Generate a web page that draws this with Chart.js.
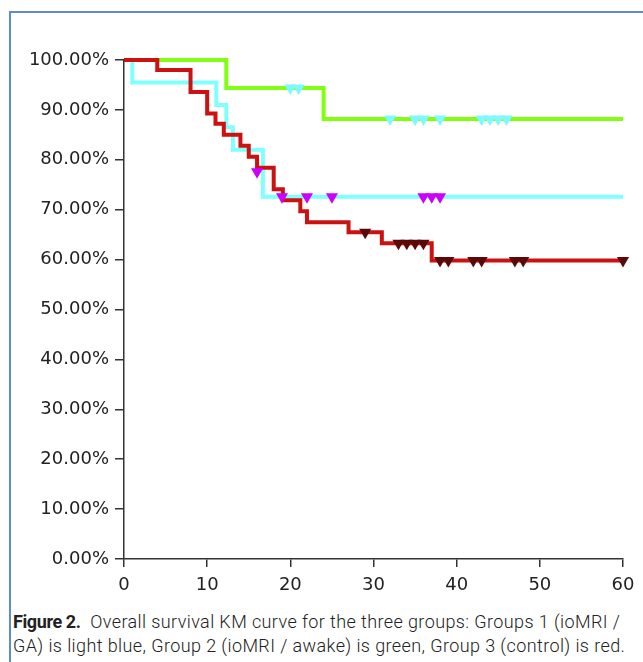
<!DOCTYPE html>
<html lang="en">
<head>
  <meta charset="UTF-8">
  <title>Overall survival KM curve</title>
  <script src="https://cdn.jsdelivr.net/npm/chart.js"></script>
  <style>
    body { margin: 0; background: #fff; width: 643px; height: 662px; overflow: hidden; position: relative; }
    .frame { position: absolute; left: 9px; top: 11px; width: 700px; height: 700px;
             border-top: 2px solid #5b8fcc; border-left: 2px solid #5b8fcc; }
    #wrap { position: absolute; left: 0; top: 0; width: 643px; height: 600px; }
    .caption { position: absolute; left: 13px; top: 610px; width: 630px;
               font-family: Roboto, "Liberation Sans", sans-serif; font-weight: 300;
               font-size: 18px; letter-spacing: 0.4px; line-height: 23.5px; color: #222; white-space: nowrap; }
    .caption b { font-weight: 700; letter-spacing: -0.4px; }
  </style>
</head>
<body>
<div class="frame"></div>
<div id="wrap"><canvas id="km"></canvas></div>
<div class="caption"><b>Figure 2.</b>&nbsp; Overall survival KM curve for the three groups: Groups 1 (ioMRI /<br>GA) is light blue, Group 2 (ioMRI / awake) is green, Group 3 (control) is red.</div>
<script>
// Group 1 (ioMRI / GA) - light blue
const g1Times = [0, 1, 11.1, 12.3, 13.1, 16.7, 60];
const g1Surv  = [100, 95.5, 91.0, 86.5, 82.0, 72.6, 72.6];
const g1CensTimes = [16, 19, 22, 25, 36, 37, 38];
const g1CensSurv  = [77.6, 72.6, 72.6, 72.6, 72.6, 72.6, 72.6];

// Group 2 (ioMRI / awake) - green
const g2Times = [0, 12.3, 24, 60];
const g2Surv  = [100, 94.4, 88.2, 88.2];
const g2CensTimes = [20, 21, 32, 35, 36, 38, 43, 44, 45, 46];
const g2CensSurv  = [94.4, 94.4, 88.2, 88.2, 88.2, 88.2, 88.2, 88.2, 88.2, 88.2];

// Group 3 (control) - red
const g3Times = [0, 4, 8, 10, 11, 12, 14, 15, 16, 18, 19.1, 21.2, 22, 27, 31, 37, 60];
const g3Surv  = [100, 98, 93.6, 89.3, 87.2, 85.0, 82.8, 80.6, 78.4, 74.1, 71.9, 69.7, 67.5, 65.5, 63.3, 59.8, 59.8];
const g3CensTimes = [29, 33, 34, 35, 36, 38, 39, 42, 43, 47, 48, 60];
const g3CensSurv  = [65.5, 63.3, 63.3, 63.3, 63.3, 59.8, 59.8, 59.8, 59.8, 59.8, 59.8, 59.8];

const xTicks = [0, 10, 20, 30, 40, 50, 60];

const pts = (xs, ys) => xs.map((x, i) => ({ x: x, y: ys[i] }));

function stepLine(xs, ys, color, order) {
  return {
    type: 'line', data: pts(xs, ys), borderColor: color, borderWidth: 4,
    stepped: 'before', pointRadius: 0, fill: false, order: order, borderCapStyle: 'butt'
  };
}
function censor(xs, ys, color) {
  return {
    type: 'scatter', data: pts(xs, ys), backgroundColor: color, borderColor: color,
    borderWidth: 0, pointStyle: 'triangle', rotation: 180, pointRadius: 7, order: 0
  };
}

const axisColor = '#333';
const tickFont = { family: 'DejaVu Sans', size: 18 };

new Chart(document.getElementById('km'), {
  data: {
    datasets: [
      stepLine(g2Times, g2Surv, '#80ff10', 3),
      stepLine(g1Times, g1Surv, '#80ffff', 2),
      stepLine(g3Times, g3Surv, '#cc1111', 1),
      censor(g2CensTimes, g2CensSurv, '#80f8ff'),
      censor(g1CensTimes, g1CensSurv, '#cc00ff'),
      censor(g3CensTimes, g3CensSurv, '#5a0808')
    ]
  },
  options: {
    responsive: true, maintainAspectRatio: false, animation: false,
    clip: false,
    layout: { padding: { top: 60, right: 20, left: 0, bottom: 0 } },
    plugins: { legend: { display: false }, tooltip: { enabled: false } },
    scales: {
      x: {
        type: 'linear', min: 0, max: 60,
        afterFit: s => { s.height = 41; },
        afterBuildTicks: s => { s.ticks = xTicks.map(v => ({ value: v })); },
        border: { color: axisColor, width: 1.5 },
        grid: { drawOnChartArea: false, drawTicks: true, tickLength: 8, color: axisColor, lineWidth: 1.5 },
        ticks: { color: '#222', font: tickFont, padding: 8, maxRotation: 0 }
      },
      y: {
        min: 0, max: 100,
        afterFit: s => { s.width = 124; },
        border: { color: axisColor, width: 1.5 },
        grid: { drawOnChartArea: false, drawTicks: true, tickLength: 9, color: axisColor, lineWidth: 1.5 },
        ticks: { stepSize: 10, color: '#222', font: tickFont, padding: 6,
                 callback: v => v.toFixed(2) + '%' }
      }
    }
  }
});
</script>
</body>
</html>
